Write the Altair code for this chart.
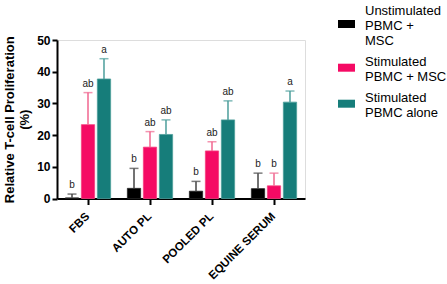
import altair as alt
import pandas as pd

categories = ["FBS", "AUTO PL", "POOLED PL", "EQUINE SERUM"]
groups = ["Unstimulated|PBMC +|MSC", "Stimulated|PBMC + MSC", "Stimulated|PBMC alone"]
colors = ["#000000", "#F50A64", "#167D7A"]
err_colors = ["#444444", "#F0668F", "#4C9E9B"]
edge_colors = ["#222222", "#F5407F", "#4C9E9B"]
# legend swatches (wide rectangles), shifted to sit beside the middle of each wrapped label
legend_shapes = [
    "M-1,1.12H1V2.06H-1Z",
    "M-1,0.26H1V1.2H-1Z",
    "M-1,0.26H1V1.2H-1Z",
]

unstim_mean = [0.2, 3.2, 2.3, 3.1]
unstim_top = [1.4, 9.5, 5.4, 8.0]
stim_msc_mean = [23.3, 16.2, 15.0, 4.0]
stim_msc_top = [33.4, 21.1, 17.9, 8.0]
stim_alone_mean = [37.7, 20.2, 24.8, 30.4]
stim_alone_top = [44.1, 24.8, 30.8, 33.9]

unstim_letters = ["b", "b", "b", "b"]
stim_msc_letters = ["ab", "ab", "ab", "b"]
stim_alone_letters = ["a", "ab", "ab", "a"]

rows = []
for g, ec, sc, means, tops, lets in zip(
    groups, err_colors, edge_colors,
    [unstim_mean, stim_msc_mean, stim_alone_mean],
    [unstim_top, stim_msc_top, stim_alone_top],
    [unstim_letters, stim_msc_letters, stim_alone_letters],
):
    for c, m, t, l in zip(categories, means, tops, lets):
        rows.append({"cat": c, "group": g, "mean": m, "top": t, "letter": l,
                     "errcolor": ec, "edgecolor": sc})
df = pd.DataFrame(rows)

FONT = "Liberation Sans"

x = alt.X("cat:N", sort=categories,
          scale=alt.Scale(paddingInner=0.27, paddingOuter=0.135),
          axis=alt.Axis(title=None, labelAngle=-45, labelFont=FONT, labelFontSize=11.5,
                        labelFontWeight="bold", labelColor="#000", labelPadding=10,
                        labelAlign="right", labelBaseline="middle",
                        domainColor="#000", domainWidth=2, tickColor="#000",
                        tickWidth=2, tickSize=6))
xoff = alt.XOffset("group:N", sort=groups, scale=alt.Scale(paddingInner=0.17))
y_scale = alt.Scale(domain=[0, 50], nice=False)
y_axis = alt.Axis(title=["Relative T-cell Proliferation", "(%)"],
                  values=[0, 10, 20, 30, 40, 50], grid=False,
                  labelFont=FONT, labelFontSize=12, labelFontWeight="bold",
                  labelColor="#000", labelPadding=2,
                  titleFont=FONT, titleFontSize=13, titleFontWeight="bold",
                  titleColor="#000", titlePadding=5,
                  domainColor="#000", domainWidth=2, tickColor="#000",
                  tickWidth=2, tickSize=5)
color = alt.Color("group:N", sort=groups, scale=alt.Scale(domain=groups, range=colors),
                  legend=alt.Legend(title=None, orient="none", legendX=281, legendY=-38,
                                    labelExpr="split(datum.label, '|')",
                                    symbolSize=289, symbolStrokeWidth=0,
                                    labelFont=FONT, labelFontSize=13,
                                    labelColor="#000", labelOffset=10, rowPadding=5,
                                    padding=0, labelLimit=200))

bars = alt.Chart(df).mark_bar(strokeWidth=0.8).encode(
    x=x,
    xOffset=xoff,
    y=alt.Y("mean:Q", scale=y_scale, axis=y_axis),
    color=color,
    stroke=alt.Stroke("edgecolor:N", scale=None),
)

legend_pts = alt.Chart(df).mark_point(filled=True, size=0, opacity=1).encode(
    x=x, xOffset=xoff,
    y=alt.Y("mean:Q", scale=y_scale, axis=y_axis),
    color=color,
    shape=alt.Shape("group:N", sort=groups,
                    scale=alt.Scale(domain=groups, range=legend_shapes)),
)

err = alt.Chart(df).mark_rule(strokeWidth=1.5).encode(
    x=x, xOffset=xoff,
    y=alt.Y("mean:Q", scale=y_scale, axis=y_axis),
    y2="top:Q",
    color=alt.Color("errcolor:N", scale=None),
)

caps = alt.Chart(df).mark_tick(orient="horizontal", size=9, thickness=1.5).encode(
    x=x, xOffset=xoff,
    y=alt.Y("top:Q", scale=y_scale, axis=y_axis),
    color=alt.Color("errcolor:N", scale=None),
)

labels = alt.Chart(df).mark_text(baseline="bottom", dy=-4, font=FONT, fontSize=10,
                                 color="#222").encode(
    x=x, xOffset=xoff,
    y=alt.Y("top:Q", scale=y_scale, axis=y_axis),
    text="letter:N",
)

chart = alt.layer(bars, legend_pts, err, caps, labels).properties(
    width=248, height=158.5,
    padding={"left": 57, "top": 40, "right": 142, "bottom": 85.5},
    autosize=alt.AutoSizeParams(type="none"),
).configure_view(strokeWidth=0).configure(background="white")

chart.save("out.html", embed_options={"renderer": "svg", "actions": False})
